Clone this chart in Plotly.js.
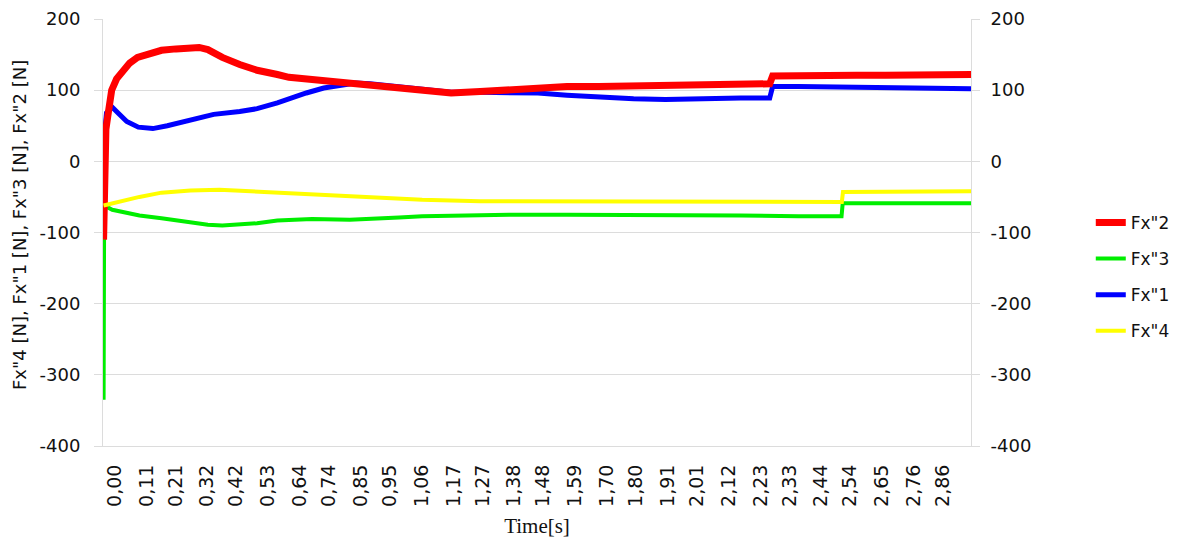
<!DOCTYPE html>
<html>
<head>
<meta charset="utf-8">
<script src="https://cdn.plot.ly/plotly-3.0.1.min.js"></script>
<style>html,body{margin:0;padding:0;background:#fff;}#chart{width:1179px;height:538px;}</style>
</head>
<body>
<div id="chart"></div>
<script>
// Tick labels of the time axis (s)
var tickLabels = ["0,00","0,11","0,21","0,32","0,42","0,53","0,64","0,74","0,85","0,95","1,06","1,17","1,27","1,38","1,48","1,59","1,70","1,80","1,91","2,01","2,12","2,23","2,33","2,44","2,54","2,65","2,76","2,86"];
// Tick values / labels of the force axes (N)
var forceTicks = [200,100,0,-100,-200,-300,-400];
var forceLabels = ["200","100","0","-100","-200","-300","-400"];

// Fx"2 (red)
var tFx2 = [0,0.003,0.008,0.014,0.028,0.045,0.066,0.09,0.117,0.15,0.2,0.25,0.31,0.33,0.36,0.41,0.47,0.53,0.6,0.64,0.72,0.815,0.9,0.99,1.05,1.12,1.2,1.3,1.4,1.5,1.6,1.71,1.85,2.0,2.15,2.30,2.31,2.4,2.5,2.6,2.7,2.8,2.9,2.995];
var vFx2 = [-110,0,45,62,100,116,128,138,146,151,156,158,160,160,157,146,136,128,122,118,115,111,108,104,101,98,96,98,101,103,105,105,106,107,108,109,120,121,122,121,121,121,122,122];

// Fx"3 (green)
var tFx3 = [0,0.002,0.03,0.08,0.124,0.2,0.3,0.36,0.41,0.47,0.53,0.6,0.64,0.72,0.85,0.95,1.02,1.1,1.2,1.4,1.6,1.8,2.0,2.2,2.4,2.548,2.552,2.7,2.995];
var vFx3 = [-335,-62,-68,-73,-76,-80,-85,-89,-90,-89,-87,-83,-82,-81,-82,-81,-79,-77,-76,-75,-75,-75,-76,-76,-77,-77,-59,-59,-59];

// Fx"1 (blue)
var tFx1 = [0,0.004,0.01,0.03,0.05,0.08,0.12,0.17,0.22,0.3,0.38,0.47,0.53,0.6,0.64,0.7,0.76,0.815,0.87,0.92,0.99,1.05,1.12,1.2,1.3,1.4,1.5,1.6,1.71,1.83,1.94,2.09,2.2,2.30,2.31,2.4,2.52,2.65,2.8,2.995];
var vFx1 = [-60,40,68,76,68,56,48,46,50,58,66,70,74,82,88,96,103,107,110,109,106,102,99,97,97,97,96,93,90,88,87,89,89,89,105,105,104,104,103,102];

// Fx"4 (yellow)
var tFx4 = [0,0.05,0.124,0.2,0.3,0.4,0.5,0.64,0.8,0.99,1.1,1.3,1.5,1.8,2.1,2.4,2.549,2.553,2.7,2.995];
var vFx4 = [-62,-57,-50,-44,-41,-40,-42,-45,-48,-52,-54,-56,-56,-56,-56,-56,-57,-43,-43,-42];

var tickVals = tickLabels.map(function(s){ return parseFloat(s.replace(',', '.')); });

function tr(name, x, y, color, w, rank, grp, yax) {
  return {type:'scatter', mode:'lines', name:name, x:x, y:y, yaxis:yax,
    line:{color:color, width:w}, legendrank:rank, legendgroup:grp,
    hoverinfo:'skip'};
}

var data = [
  tr('Fx"1', tFx1, vFx1, '#0000ff', 5, 3, 'c', 'y'),
  tr('Fx"3', tFx3, vFx3, '#00ee00', 4, 2, 'b', 'y'),
  tr('Fx"2', tFx2, vFx2, '#ff0000', 7, 1, 'a', 'y'),
  tr('Fx"4', tFx4, vFx4, '#ffff00', 4, 4, 'd', 'y2')
];

var grid = '#dcdcdc';
var tickFont = {family:'DejaVu Sans', size:18, color:'#111'};

var layout = {
  width:1179, height:538,
  margin:{l:103, r:208, t:19, b:92, pad:0, autoexpand:false},
  paper_bgcolor:'#fff', plot_bgcolor:'#fff',
  showlegend:true,
  legend:{x:1.138, xanchor:'left', y:0.396, yanchor:'middle',
    font:{family:'DejaVu Sans', size:17, color:'#111'},
    traceorder:'grouped', tracegroupgap:11, itemwidth:30, bgcolor:'rgba(0,0,0,0)'},
  xaxis:{type:'linear', range:[-0.002, 2.995], tickmode:'array', tickvals:tickVals, ticktext:tickLabels,
    tickangle:-90, ticks:'', ticklabelshift:11, ticklabelstandoff:10,
    tickfont:{family:'DejaVu Sans', size:19, color:'#111'},
    showgrid:false, zeroline:false, showline:true, linecolor:grid, linewidth:1,
    title:{text:'Time[s]', font:{family:'Liberation Serif', size:21, color:'#111'}, standoff:12}},
  yaxis:{range:[-400,200], tickmode:'array', tickvals:forceTicks, ticktext:forceLabels,
    ticks:'outside', ticklen:8, tickcolor:grid,
    showgrid:true, gridcolor:grid, gridwidth:1, zeroline:false, showline:true, linecolor:grid,
    tickfont:tickFont, ticklabelstandoff:10},
  yaxis2:{overlaying:'y', side:'right', range:[-400,200], tickmode:'array', tickvals:forceTicks, ticktext:forceLabels,
    ticks:'outside', ticklen:8,
    tickcolor:grid, showgrid:false, zeroline:false, showline:true, linecolor:grid,
    tickfont:tickFont, ticklabelstandoff:7},
  annotations:[{text:'Fx"4 [N], Fx"1 [N], Fx"3 [N], Fx"2 [N]', xref:'paper', yref:'paper',
    x:-0.0956, y:0.5176, xanchor:'center', yanchor:'middle', textangle:-90, showarrow:false,
    font:{family:'DejaVu Sans', size:18, color:'#111'}}]
};

Plotly.newPlot('chart', data, layout, {staticPlot:true, displayModeBar:false});
</script>
</body>
</html>
